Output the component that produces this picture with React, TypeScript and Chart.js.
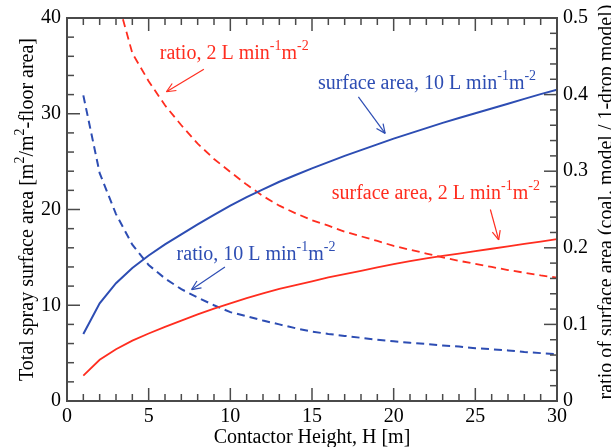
import React, { useEffect, useRef } from 'react';
import { Chart, registerables } from 'chart.js';
Chart.register(...registerables);

// Contactor height H [m]
const heights = [1, 2, 3, 4, 5, 6, 7, 8, 9, 10, 11, 12, 13, 14, 15, 16, 17, 18, 19, 20, 21, 22, 23, 24, 25, 26, 27, 28, 29, 30];
// Total spray surface area [m2/m2-floor area], left axis
const surface10 = [7.0, 10.2, 12.3, 13.9, 15.2, 16.35, 17.4, 18.45, 19.45, 20.4, 21.3, 22.1, 22.9, 23.6, 24.3, 24.95, 25.6, 26.2, 26.8, 27.4, 27.95, 28.5, 29.05, 29.55, 30.05, 30.55, 31.05, 31.55, 32.05, 32.5];
const surface2 = [2.65, 4.3, 5.4, 6.3, 7.05, 7.75, 8.4, 9.05, 9.65, 10.2, 10.75, 11.25, 11.7, 12.1, 12.5, 12.9, 13.25, 13.6, 13.95, 14.3, 14.6, 14.9, 15.15, 15.4, 15.65, 15.9, 16.15, 16.4, 16.65, 16.9];
// ratio of surface area (coal. model / 1-drop model), right axis
const ratio10 = [0.399, 0.2975, 0.244, 0.204, 0.1775, 0.16, 0.146, 0.135, 0.125, 0.116, 0.1106, 0.105, 0.1, 0.095, 0.0906, 0.0875, 0.085, 0.0825, 0.08, 0.078, 0.076, 0.0744, 0.0725, 0.071, 0.069, 0.0675, 0.066, 0.064, 0.0625, 0.061];
const ratio2 = [null, null, 0.531, 0.454, 0.4175, 0.386, 0.36, 0.336, 0.316, 0.299, 0.2825, 0.2675, 0.255, 0.245, 0.236, 0.229, 0.221, 0.215, 0.209, 0.2025, 0.1975, 0.1925, 0.1875, 0.183, 0.179, 0.175, 0.171, 0.1675, 0.164, 0.161];

const xTitle = 'Contactor Height, H [m]';
const yTitle: [string, boolean][] = [['Total spray surface area [m', false], ['2', true], ['/m', false], ['2', true], ['-floor area]', false]];
const y1Title = 'ratio of surface area (coal. model / 1-drop model)';

const BLUE = '#2d4db3';
const RED = '#ff2d1f';
const FONT = '"Liberation Serif", "Times New Roman", serif';

type Seg = [string, boolean];
const unitSegs = (prefix: string): Seg[] => [[prefix + ' L min', false], ['-1', true], ['m', false], ['-2', true]];

// annotations: label anchor (data coords on x / left y) and arrow (from -> to)
const annotations = [
  { segs: unitSegs('ratio, 2'), color: RED, tx: 5.68, ty: 35.7, ax0: 8.38, ay0: 34.65, ax1: 6.09, ay1: 32.3 },
  { segs: unitSegs('surface area, 10'), color: BLUE, tx: 15.36, ty: 32.6, ax0: 17.84, ay0: 31.77, ax1: 19.48, ay1: 27.95 },
  { segs: unitSegs('surface area, 2'), color: RED, tx: 16.21, ty: 21.1, ax0: 25.92, ay0: 20.0, ax1: 26.43, ay1: 16.82 },
  { segs: unitSegs('ratio, 10'), color: BLUE, tx: 6.71, ty: 14.69, ax0: 9.67, ay0: 13.99, ax1: 7.63, ay1: 11.64 },
];

function segWidth(ctx: CanvasRenderingContext2D, segs: Seg[], main: string, sup: string) {
  let w = 0;
  for (const [t, s] of segs) { ctx.font = s ? sup : main; w += ctx.measureText(t).width; }
  return w;
}
function drawSegs(ctx: CanvasRenderingContext2D, segs: Seg[], x: number, y: number, main: string, sup: string, raise: number) {
  let cx = x;
  ctx.textBaseline = 'alphabetic';
  ctx.textAlign = 'left';
  for (const [t, s] of segs) {
    ctx.font = s ? sup : main;
    ctx.fillText(t, cx, s ? y - raise : y);
    cx += ctx.measureText(t).width;
  }
}

const decorPlugin = {
  id: 'decor',
  afterDraw(chart: any) {
    const { ctx, chartArea: a, scales } = chart;
    const sx = scales.x, sy = scales.y, sy1 = scales.y1;
    ctx.save();
    const line = (x0: number, y0: number, x1: number, y1: number) => { ctx.beginPath(); ctx.moveTo(x0, y0); ctx.lineTo(x1, y1); ctx.stroke(); };
    // ticks (inward)
    ctx.strokeStyle = '#4a4a4a';
    ctx.lineWidth = 1.5;
    for (let v = 0; v <= 30; v += 1) {
      const px = sx.getPixelForValue(v);
      const L = v % 5 === 0 ? 13 : 7;
      line(px, a.bottom, px, a.bottom - L);
      line(px, a.top, px, a.top + L);
    }
    for (let v = 0; v <= 40; v += 2) {
      const py = sy.getPixelForValue(v);
      line(a.left, py, a.left + (v % 10 === 0 ? 13 : 7), py);
    }
    for (let i = 0; i <= 25; i++) {
      const py = sy1.getPixelForValue(i * 0.02);
      line(a.right, py, a.right - (i % 5 === 0 ? 13 : 7), py);
    }
    ctx.lineWidth = 2;
    ctx.strokeRect(a.left, a.top, a.right - a.left, a.bottom - a.top);

    // axis titles
    ctx.fillStyle = '#000';
    ctx.font = `20px ${FONT}`;
    ctx.textAlign = 'center';
    ctx.textBaseline = 'alphabetic';
    ctx.fillText(xTitle, (a.left + a.right) / 2, 443);

    const mainF = `20px ${FONT}`, supF = `14px ${FONT}`;
    ctx.save();
    ctx.translate(33, (a.top + a.bottom) / 2);
    ctx.rotate(-Math.PI / 2);
    const w = segWidth(ctx, yTitle, mainF, supF);
    drawSegs(ctx, yTitle, -w / 2, 0, mainF, supF, 9);
    ctx.restore();

    ctx.save();
    ctx.translate(612, 202);
    ctx.rotate(-Math.PI / 2);
    ctx.font = mainF;
    ctx.textAlign = 'center';
    ctx.textBaseline = 'alphabetic';
    ctx.fillText(y1Title, 0, 0);
    ctx.restore();

    // annotations
    for (const an of annotations) {
      ctx.fillStyle = an.color;
      ctx.strokeStyle = an.color;
      drawSegs(ctx, an.segs, sx.getPixelForValue(an.tx), sy.getPixelForValue(an.ty), mainF, supF, 9);
      const x0 = sx.getPixelForValue(an.ax0), y0 = sy.getPixelForValue(an.ay0);
      const x1 = sx.getPixelForValue(an.ax1), y1 = sy.getPixelForValue(an.ay1);
      ctx.lineWidth = 1.2;
      line(x0, y0, x1, y1);
      const ang = Math.atan2(y1 - y0, x1 - x0);
      const hl = 10, spread = 0.42;
      line(x1, y1, x1 - hl * Math.cos(ang - spread), y1 - hl * Math.sin(ang - spread));
      line(x1, y1, x1 - hl * Math.cos(ang + spread), y1 - hl * Math.sin(ang + spread));
    }
    ctx.restore();
  },
};

export default function App() {
  const ref = useRef<HTMLCanvasElement>(null);
  useEffect(() => {
    if (!ref.current) return;
    const pts = (arr: (number | null)[]) => heights.map((h, i) => ({ x: h, y: arr[i] }));
    const tickFont = { family: FONT, size: 20 };
    const chart = new Chart(ref.current, {
      type: 'line',
      data: {
        datasets: [
          { data: pts(surface10), borderColor: BLUE, borderWidth: 2, yAxisID: 'y' },
          { data: pts(surface2), borderColor: RED, borderWidth: 1.8, yAxisID: 'y' },
          { data: pts(ratio10), borderColor: BLUE, borderWidth: 2, borderDash: [8, 5], yAxisID: 'y1' },
          { data: pts(ratio2), borderColor: RED, borderWidth: 1.8, borderDash: [8, 5], yAxisID: 'y1' },
        ] as any,
      },
      options: {
        responsive: false,
        animation: false,
        devicePixelRatio: 1,
        layout: { padding: { top: 17.5, left: 0, right: 0, bottom: 0 } },
        elements: { point: { radius: 0 }, line: { tension: 0 } },
        plugins: { legend: { display: false }, tooltip: { enabled: false } },
        scales: {
          x: {
            type: 'linear', min: 0, max: 30, position: 'bottom',
            grid: { display: false, drawTicks: false }, border: { display: false },
            ticks: { stepSize: 5, font: tickFont, color: '#000', padding: 4, maxRotation: 0, autoSkip: false },
            afterFit: (s: any) => { s.height = 46; },
          },
          y: {
            type: 'linear', min: 0, max: 40, position: 'left',
            grid: { display: false, drawTicks: false }, border: { display: false },
            ticks: { stepSize: 10, font: tickFont, color: '#000', padding: 6 },
            afterFit: (s: any) => { s.width = 67; },
          },
          y1: {
            type: 'linear', min: 0, max: 0.5, position: 'right',
            grid: { display: false, drawTicks: false }, border: { display: false },
            ticks: { stepSize: 0.1, font: tickFont, color: '#000', padding: 6, callback: (v: any) => (Number(v) === 0 ? '0' : Number(v).toFixed(1)) },
            afterFit: (s: any) => { s.width = 54; },
          },
        },
      } as any,
      plugins: [decorPlugin],
    });
    return () => chart.destroy();
  }, []);
  return (
    <div style={{ position: 'fixed', left: 0, top: 0, width: 611, height: 447, background: '#fff' }}>
      <canvas ref={ref} width={611} height={447} style={{ width: 611, height: 447, display: 'block' }} />
    </div>
  );
}
